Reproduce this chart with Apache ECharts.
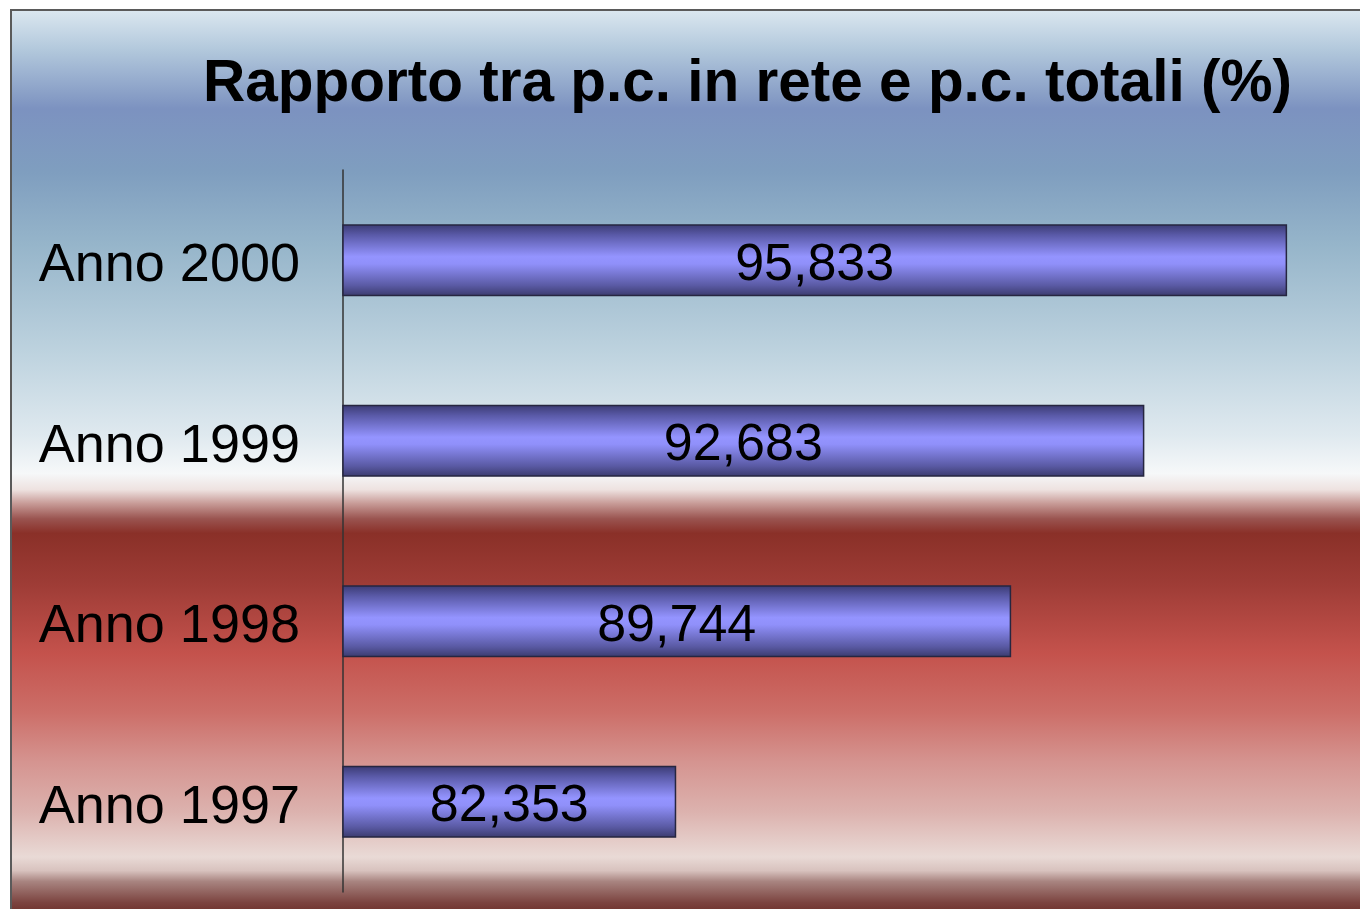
<!DOCTYPE html>
<html>
<head>
<meta charset="utf-8">
<title>Rapporto tra p.c. in rete e p.c. totali</title>
<script src="https://cdn.jsdelivr.net/npm/echarts@6/dist/echarts.min.js"></script>
<style>
html, body { margin: 0; padding: 0; background: #fff; }
#chart { width: 1360px; height: 909px; }
</style>
</head>
<body>
<div id="chart"></div>
<script>
var anni = ['Anno 1997', 'Anno 1998', 'Anno 1999', 'Anno 2000'];
var rapporto = [82.353, 89.744, 92.683, 95.833];

var myChart = echarts.init(document.getElementById('chart'));

// sfondo a fasce: azzurro in alto, rosso in basso
var sfondo = new echarts.graphic.LinearGradient(0, 0, 0, 1, [
    { offset: 0, color: '#dce8f0' },
    { offset: 0.045, color: '#b2c8dc' },
    { offset: 0.11, color: '#7c92c0' },
    { offset: 0.18, color: '#7f9ebf' },
    { offset: 0.26, color: '#96b5ca' },
    { offset: 0.38, color: '#bed3df' },
    { offset: 0.47, color: '#dfe9ef' },
    { offset: 0.512, color: '#f6f8f9' },
    { offset: 0.53, color: '#eee2e0' },
    { offset: 0.545, color: '#c89c98' },
    { offset: 0.562, color: '#9a5450' },
    { offset: 0.578, color: '#8a3028' },
    { offset: 0.634, color: '#9e3c36' },
    { offset: 0.71, color: '#c4524c' },
    { offset: 0.775, color: '#cc6e68' },
    { offset: 0.83, color: '#d59490' },
    { offset: 0.885, color: '#dcb2ae' },
    { offset: 0.935, color: '#e9dad6' },
    { offset: 0.95, color: '#d8c2be' },
    { offset: 0.962, color: '#a88480' },
    { offset: 0.985, color: '#7c4440' },
    { offset: 1, color: '#6a2c26' }
]);

var barra = new echarts.graphic.LinearGradient(0, 0, 0, 1, [
    { offset: 0, color: '#3a3a72' },
    { offset: 0.15, color: '#5a5aa8' },
    { offset: 0.45, color: '#9494ff' },
    { offset: 0.55, color: '#9090fa' },
    { offset: 0.85, color: '#5a5aa4' },
    { offset: 1, color: '#3a3a6c' }
]);

var option = {
    animation: false,
    graphic: [{
        type: 'rect',
        z: -10,
        silent: true,
        shape: { x: 11, y: 10, width: 1400, height: 905 },
        style: { fill: sfondo, stroke: '#5a5a5a', lineWidth: 2 }
    }],
    title: {
        text: 'Rapporto tra p.c. in rete e p.c. totali (%)',
        left: 198,
        top: 50,
        textStyle: {
            fontFamily: 'Liberation Sans',
            fontWeight: 'bold',
            fontSize: 58.5,
            color: '#000'
        }
    },
    grid: {
        left: 343,
        right: 20,
        top: 170,
        bottom: 17,
        containLabel: false
    },
    xAxis: {
        type: 'value',
        min: 75,
        max: 97,
        show: false
    },
    yAxis: {
        type: 'category',
        data: anni,
        axisLine: { show: true, lineStyle: { color: '#333', width: 1.5 } },
        axisTick: { show: false },
        axisLabel: {
            margin: 43,
            verticalAlign: 'top',
            lineHeight: 12,
            fontFamily: 'Liberation Sans',
            fontSize: 54,
            color: '#000'
        },
        splitLine: { show: false }
    },
    series: [{
        type: 'bar',
        data: rapporto,
        barWidth: 72,
        itemStyle: {
            color: barra,
            borderColor: '#262640',
            borderWidth: 1.5
        },
        label: {
            show: true,
            position: 'inside',
            offset: [0, 5],
            fontFamily: 'Liberation Sans',
            fontSize: 52,
            color: '#000',
            formatter: function (p) {
                return p.value.toFixed(3).replace('.', ',');
            }
        }
    }]
};

myChart.setOption(option);
</script>
</body>
</html>
